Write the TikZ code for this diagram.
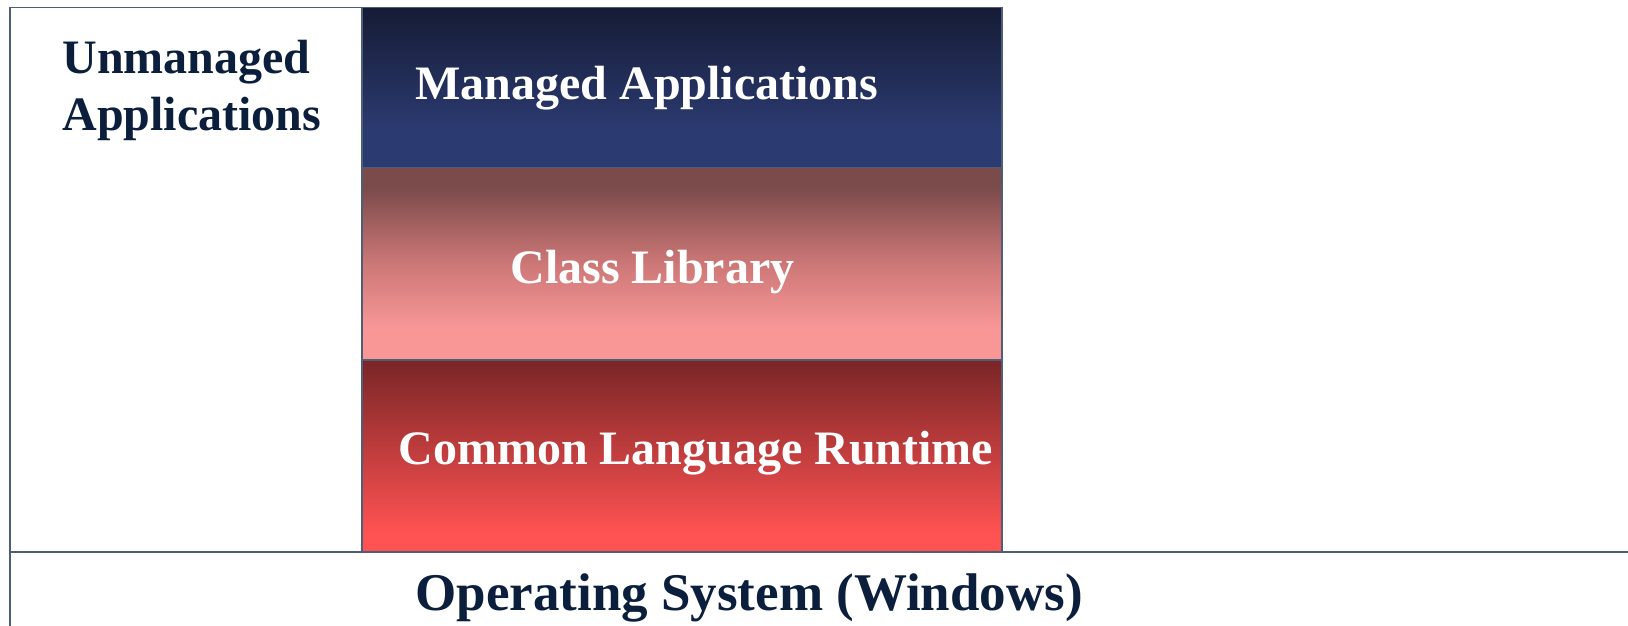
\documentclass[tikz,border=0pt]{standalone}
\usepackage{fontspec}
\setmainfont{Liberation Serif}
\definecolor{navytext}{HTML}{0B1F3D}
\definecolor{edgecol}{HTML}{4E5E76}
\definecolor{mtop}{HTML}{161C36}
\definecolor{mbot}{HTML}{2B3A70}
\definecolor{ctop}{HTML}{7B4A4A}
\definecolor{cmid}{HTML}{CD7777}
\definecolor{cbot}{HTML}{F99797}
\definecolor{rtop}{HTML}{792526}
\definecolor{rbot}{HTML}{FF5252}
\pgfdeclareverticalshading{managedsh}{100bp}{color(0bp)=(mbot); color(25bp)=(mbot); color(37bp)=(mbot); color(75bp)=(mtop); color(100bp)=(mtop)}
\pgfdeclareverticalshading{classsh}{100bp}{color(0bp)=(cbot); color(25bp)=(cbot); color(33bp)=(cbot); color(50bp)=(cmid); color(70bp)=(ctop); color(75bp)=(ctop); color(100bp)=(ctop)}
\pgfdeclareverticalshading{clrsh}{100bp}{color(0bp)=(rbot); color(25bp)=(rbot); color(30bp)=(rbot); color(75bp)=(rtop); color(100bp)=(rtop)}
\tikzset{
  layerbox/.style={draw=edgecol, line width=0.75pt, inner sep=0pt, anchor=north west},
  lbl/.style={font=\bfseries\fontsize{24}{28.5}\selectfont, inner sep=0pt, anchor=base west},
  whitelbl/.style={lbl, text=white},
  navylbl/.style={lbl, text=navytext}
}
\begin{document}
\begin{tikzpicture}[x=0.5pt,y=-0.5pt]
\clip (0,0) rectangle (1628,626);
\fill[white] (0,0) rectangle (1628,626);
% boxes
\node[layerbox, fill=white, minimum width=176pt, minimum height=272pt] (unmanaged) at (9,7) {};
\node[layerbox, shading=managedsh, minimum width=320pt, minimum height=80pt] (managed) at (361,7) {};
\node[layerbox, shading=classsh, minimum width=320pt, minimum height=96pt] (classlib) at (361,167) {};
\node[layerbox, shading=clrsh, minimum width=320pt, minimum height=96pt] (clr) at (361,359) {};
\node[layerbox, fill=white, minimum width=830pt, minimum height=60pt] (os) at (9,551) {};
% labels
\node[navylbl, align=left] (tunmanaged) at (62,131) {Unmanaged\\Applications};
\node[whitelbl] (tmanaged) at (415,100) {Managed Applications};
\node[whitelbl] (tclass) at (510,283) {Class Library};
\node[whitelbl] (tclr) at (398,464) {Common Language Runtime};
\node[navylbl, font=\bfseries\fontsize{26.5}{30}\selectfont] (tos) at (415,610) {Operating System (Windows)};
\end{tikzpicture}
\end{document}
